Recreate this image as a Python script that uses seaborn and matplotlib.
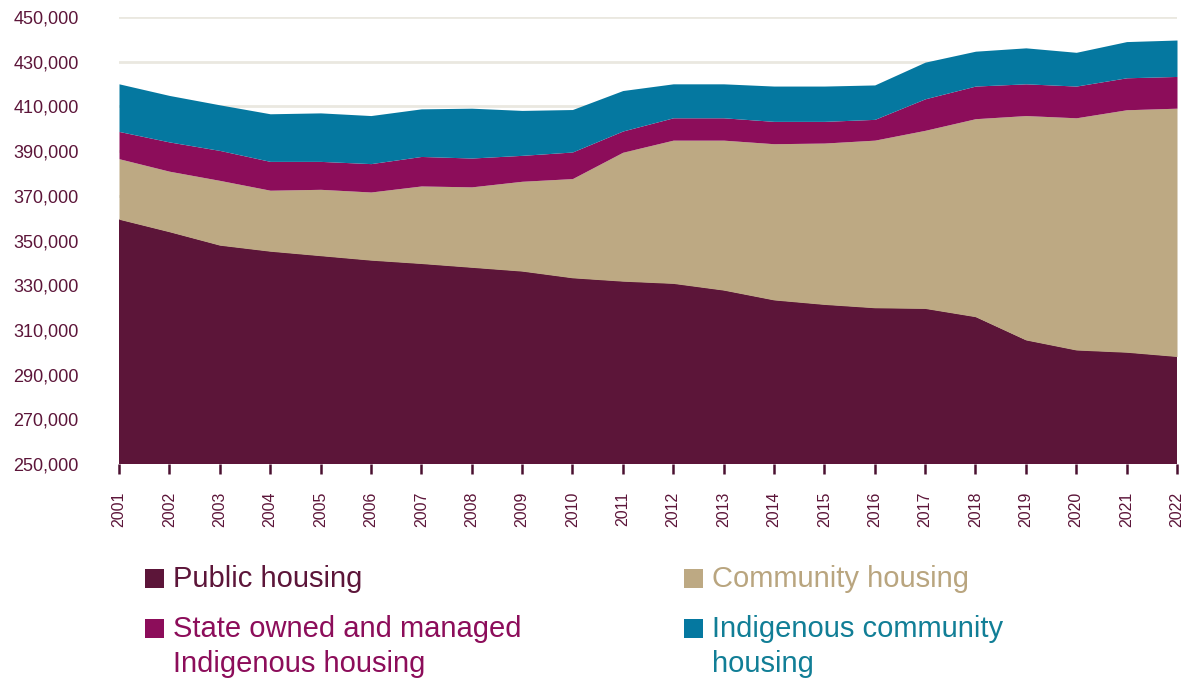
import numpy as np
import pandas as pd
import matplotlib
matplotlib.use("Agg")
import matplotlib.pyplot as plt
import seaborn as sns
from matplotlib.patches import Rectangle

years = list(range(2001, 2023))
public_housing = [359500, 353900, 347900, 345200, 343200, 341200, 339700, 338000, 336300, 333300, 331800,
                  330800, 327800, 323400, 321400, 319900, 319600, 315900, 305500, 301000, 300000, 298100]
community_housing = [27100, 27100, 29000, 27300, 29700, 30500, 34700, 36000, 40200, 44400, 57700,
                     64100, 67100, 69900, 72200, 75000, 79700, 88600, 100400, 103900, 108500, 111100]
somih = [12200, 13100, 13400, 12900, 12500, 12700, 13200, 12900, 11600, 11900, 9500,
         10000, 10000, 10000, 9700, 9300, 14100, 14600, 14200, 14200, 14300, 14200]
ich = [21300, 20800, 20400, 21300, 21700, 21500, 21300, 22300, 20100, 19000, 18100,
       15200, 15200, 15800, 15800, 15400, 16400, 15600, 16100, 15100, 16200, 16300]

series_names = ["Public housing", "Community housing",
                "State owned and managed\nIndigenous housing", "Indigenous community\nhousing"]
colors = ["#5C1539", "#BDA983", "#8C0D5A", "#0578A0"]
text_colors = ["#5C1539", "#B9A57F", "#8C0D5A", "#117E96"]
y_ticks = list(range(250000, 450001, 20000))

df = pd.DataFrame({"year": years, "public": public_housing, "community": community_housing,
                   "somih": somih, "ich": ich})

sns.set_style("white")
plt.rcParams["font.family"] = ["Liberation Sans", "DejaVu Sans"]

fig = plt.figure(figsize=(11.97, 6.87), dpi=100)
ax = fig.add_axes([119 / 1197, 1 - 464 / 687, (1177 - 119) / 1197, (464 - 17) / 687])

ax.stackplot(df["year"], df["public"], df["community"], df["somih"], df["ich"],
             colors=colors, linewidth=0, zorder=2)

ax.set_xlim(2001, 2022)
ax.set_ylim(250000, 450000)
ax.set_yticks(y_ticks)
ax.set_yticklabels([f"{v:,}" for v in y_ticks])
ax.set_xticks(years)
ax.set_xticklabels([str(y) for y in years], rotation=90)

ax.grid(axis="y", color="#EAE8E0", linewidth=2, zorder=0)
ax.grid(axis="x", visible=False)
ax.set_axisbelow(True)
for s in ["left", "right", "top", "bottom"]:
    ax.spines[s].set_visible(False)

ax.tick_params(axis="y", length=0, pad=29, labelsize=13, labelcolor="#5C1539")
ax.tick_params(axis="x", length=7, width=1.8, color="#4A1030", direction="out",
               pad=13, labelsize=11.5, labelcolor="#5C1539", bottom=True)

# legend drawn as squares and text in figure pixels
def fx(px):
    return px / 1197

def fy(py):
    return 1 - py / 687

positions = [(145, 579), (684, 579), (145, 629), (684, 629)]
for name, col, tcol, (px, py) in zip(series_names, colors, text_colors, positions):
    fig.add_artist(Rectangle((fx(px), fy(py + 9)), 19 / 1197, 19 / 687,
                             transform=fig.transFigure, color=col, linewidth=0))
    for i, line in enumerate(name.split("\n")):
        fig.text(fx(px + 28), fy(py + i * 35), line, color=tcol, fontsize=21,
                 va="center", ha="left")

fig.savefig("out.png", dpi=100)
